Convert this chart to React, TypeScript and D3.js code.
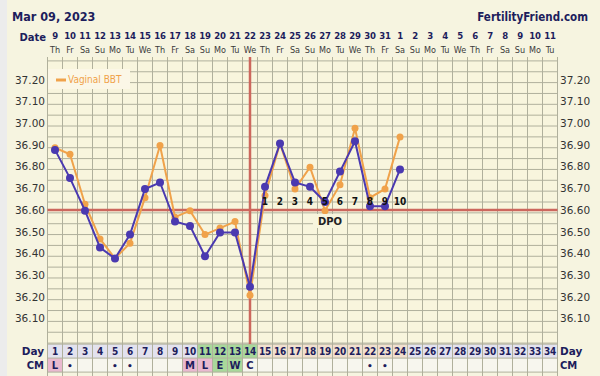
import React from "react";
import * as d3 from "d3";

const days = d3.range(1, 35);
const dateLabels = ["9","10","11","12","13","14","15","16","17","18","19","20","21","22","23","24","25","26","27","28","29","30","31","1","2","3","4","5","6","7","8","9","10","11"];
const weekdays = ["Th","Fr","Sa","Su","Mo","Tu","We"];
const blueBBT = [36.89,36.76,36.61,36.44,36.39,36.50,36.71,36.74,36.56,36.54,36.40,36.51,36.51,36.26,36.72,36.92,36.74,36.72,36.65,36.79,36.93,36.63,36.63,36.80];
const vaginalBBT = [36.90,36.87,36.64,36.48,36.39,36.46,36.67,36.91,36.58,36.61,36.50,36.53,36.56,36.22,36.68,36.92,36.71,36.81,36.61,36.73,36.99,36.67,36.71,36.95];
const yTicks = [37.2,37.1,37.0,36.9,36.8,36.7,36.6,36.5,36.4,36.3,36.2,36.1];
const coverline = 36.613;
const ovulationDay = 14;
const dpoStart = 15;
const dpoLabels = ["1","2","3","4","5","6","7","8","9","10"];
const cmData: Record<number, string> = {1:"L",2:"•",5:"•",6:"•",10:"M",11:"L",12:"E",13:"W",14:"C",22:"•",23:"•"};
const cmPink = [1,10,11];
const cmGreen = [12,13];
const fertileDays = [11,12,13,14];
const lutealDays = d3.range(15, 25);

export default function App() {
  const W = 600, H = 376;
  const x = d3.scaleLinear().domain([1, 34]).range([55, 550]);
  const y = d3.scaleLinear().domain([36.0, 37.3]).range([343.1, 60.9]);
  const cellW = 15;
  const left = x(1) - cellW / 2;
  const right = x(34) + cellW / 2;
  const top = 57;
  const gridBottom = y(36.0);
  const dayRowTop = gridBottom + 1;
  const rowH = 14;
  const navy = "#1d1d5c";
  const blue = "#4a39b0";
  const orange = "#f0a24a";
  const red = "#cc675d";
  const gridC = "#b0b09c";
  const font = "'DejaVu Sans', Verdana, sans-serif";
  const cond = "'DejaVu Sans Condensed', 'DejaVu Sans', sans-serif";

  const line = d3.line<number>().x((_, i) => x(i + 1)).y((d) => y(d));
  const hLines = d3.range(0, 27).map((i) => 36.0 + i * 0.05);

  return (
    <svg width={W} height={H} style={{ position: "absolute", left: 0, top: 0, fontFamily: font }}>
      <rect x={0} y={0} width={W} height={H} fill="#f6f4e0" />
      <rect x={0} y={0} width={7} height={H} fill="#ececec" />
      <text x={12} y={21} fontSize={12.5} fontWeight="bold" fill={navy} style={{ fontFamily: cond }}>Mar 09, 2023</text>
      <text x={588} y={21} fontSize={11.5} fontWeight="bold" fill={navy} textAnchor="end" style={{ fontFamily: cond }}>FertilityFriend.com</text>
      <text x={46} y={41} fontSize={10} fontWeight="bold" fill={navy} textAnchor="end">Date</text>
      {days.map((d, i) => (
        <g key={"dt" + d}>
          <text x={x(d)} y={39} fontSize={9.5} fontWeight="bold" fill={navy} textAnchor="middle" style={{ fontFamily: cond }} letterSpacing={-0.3}>{dateLabels[i]}</text>
          <text x={x(d)} y={52.5} fontSize={9} fill="#3a3a3a" textAnchor="middle" style={{ fontFamily: cond }}>{weekdays[i % 7]}</text>
        </g>
      ))}
      {/* plot area */}
      <rect x={left} y={top} width={right - left} height={gridBottom - top} fill="#f8f5dd" />
      {hLines.map((v, i) => (
        <line key={"h" + i} x1={left} x2={right} y1={y(v)} y2={y(v)} stroke={gridC} strokeWidth={1} />
      ))}
      {/* day row & CM row */}
      {days.map((d) => {
        let fill = "#e3e2ee";
        if (fertileDays.includes(d)) fill = "#a9d89b";
        else if (lutealDays.includes(d)) fill = "#f1e0cf";
        let cmFill = "#f7f6ee";
        if (cmPink.includes(d)) cmFill = "#e9b9cf";
        if (cmGreen.includes(d)) cmFill = "#a9d89b";
        return (
          <g key={"row" + d}>
            <rect x={x(d) - cellW / 2} y={dayRowTop} width={cellW} height={rowH} fill={fill} />
            <rect x={x(d) - cellW / 2} y={dayRowTop + rowH} width={cellW} height={rowH} fill={cmFill} />
            <text x={x(d)} y={dayRowTop + 11} fontSize={10} fontWeight="bold" fill={navy} textAnchor="middle" style={{ fontFamily: cond }} letterSpacing={-0.3}>{d}</text>
            {cmData[d] && (
              <text x={x(d)} y={dayRowTop + rowH + 11} fontSize={cmData[d] === "•" ? 9 : 10} fontWeight="bold" fill={navy} textAnchor="middle">{cmData[d]}</text>
            )}
          </g>
        );
      })}
      {[dayRowTop, dayRowTop + rowH, dayRowTop + 2 * rowH, dayRowTop + 3 * rowH].map((yy, i) => (
        <line key={"rl" + i} x1={left} x2={right} y1={yy} y2={yy} stroke={gridC} strokeWidth={1} />
      ))}
      {d3.range(0, 35).map((i) => (
        <line key={"v" + i} x1={left + i * cellW} x2={left + i * cellW} y1={top} y2={H} stroke={gridC} strokeWidth={1} />
      ))}
      <text x={44} y={dayRowTop + 11} fontSize={10.5} fontWeight="bold" fill={navy} textAnchor="end">Day</text>
      <text x={44} y={dayRowTop + rowH + 11} fontSize={10} fontWeight="bold" fill={navy} textAnchor="end">CM</text>
      <text x={560} y={dayRowTop + 11} fontSize={10.5} fontWeight="bold" fill={navy}>Day</text>
      <text x={560} y={dayRowTop + rowH + 11} fontSize={10} fontWeight="bold" fill={navy}>CM</text>
      {/* y axis labels */}
      {yTicks.map((t) => (
        <g key={"yt" + t}>
          <text x={45} y={y(t) + 1} fontSize={10.5} fill="#333" textAnchor="end">{t.toFixed(2)}</text>
          <text x={560} y={y(t) + 1} fontSize={10.5} fill="#333">{t.toFixed(2)}</text>
        </g>
      ))}
      {/* legend */}
      <rect x={48} y={69} width={82} height={20} fill="#fbf7e7" />
      <line x1={56} x2={66} y1={80} y2={80} stroke={orange} strokeWidth={3} />
      <text x={68} y={83} fontSize={10} fill={orange} style={{ fontFamily: cond }}>Vaginal BBT</text>
      {/* coverline & ovulation line */}
      <line x1={left} x2={right} y1={y(coverline)} y2={y(coverline)} stroke={red} strokeWidth={2.5} />
      <line x1={x(ovulationDay)} x2={x(ovulationDay)} y1={top} y2={dayRowTop} stroke={red} strokeWidth={2.5} />
      {/* orange series */}
      <path d={line(vaginalBBT) || ""} fill="none" stroke={orange} strokeWidth={2} />
      {vaginalBBT.map((v, i) => (
        <circle key={"o" + i} cx={x(i + 1)} cy={y(v)} r={3.5} fill={orange} />
      ))}
      {/* blue series */}
      <path d={line(blueBBT) || ""} fill="none" stroke={blue} strokeWidth={2} />
      {blueBBT.map((v, i) => (
        <circle key={"b" + i} cx={x(i + 1)} cy={y(v)} r={4} fill={blue} />
      ))}
      {/* DPO labels */}
      {dpoLabels.map((l, i) => (
        <text key={"dpo" + i} x={x(dpoStart + i)} y={205} fontSize={10} fontWeight="bold" fill="#111" textAnchor="middle" style={{ fontFamily: cond }}>{l}</text>
      ))}
      <rect x={313} y={214} width={34} height={14} fill="#f8f5dd" />
      <text x={330} y={225} fontSize={10} fontWeight="bold" fill="#222" textAnchor="middle">DPO</text>
    </svg>
  );
}
